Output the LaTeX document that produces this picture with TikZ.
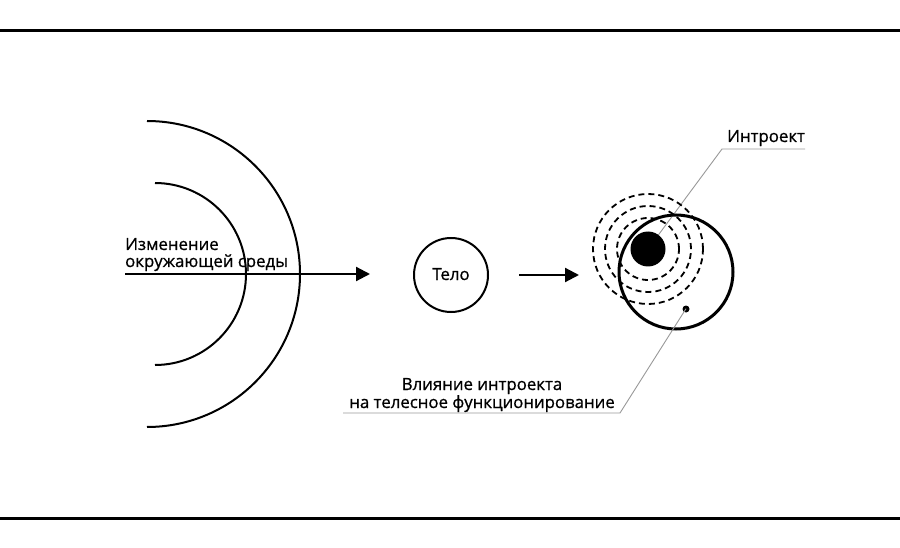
\documentclass[tikz,border=0pt]{standalone}
\usepackage{fontspec}
\setmainfont{Open Sans}
\newfontfamily\lblfont{Open Sans}[FakeBold=0.8]
\usetikzlibrary{arrows.meta}
\begin{document}
\begin{tikzpicture}[x=1pt,y=-1pt,
  lbl/.style={inner sep=0pt,font=\lblfont\fontsize{16.8}{18}\selectfont},
  arcline/.style={line width=2pt},
  arrowline/.style={line width=2.2pt,-{Triangle[length=14pt,width=14pt]}},
  dashring/.style={line width=1.8pt,dash pattern=on 6pt off 4pt},
  leader/.style={gray!80,line width=0.9pt}]
\useasboundingbox (0,0) rectangle (900,548);
\fill[white] (0,0) rectangle (900,548);
% frame lines
\draw[line width=3pt] (0,31) -- (900,31);
\draw[line width=3pt] (0,518) -- (900,518);
% left arcs
\draw[arcline] (147,121) arc[start angle=90,end angle=-90,radius=153pt];
\draw[arcline] (155,183) arc[start angle=90,end angle=-90,radius=91pt];
% text left
\node[lbl,anchor=base west] (izm1) at (125,250) {Изменение};
\node[lbl,anchor=base west] (izm2) at (125,267) {окружающей среды};
\coordinate (a1s) at (125,274);
\coordinate (a1e) at (370,274);
\draw[arrowline] (a1s) -- (a1e);
% body
\node[circle,draw,line width=2pt,minimum size=74pt,inner sep=0pt] (telo) at (451,275) {};
\node[lbl,anchor=base] (telot) at (451,280) {Тело};
\draw[arrowline] ([xshift=30pt]telo.east) -- ([xshift=90pt]telo.east);
% right
\node[circle,minimum size=112pt,inner sep=0pt] (big) at (676,272) {};
\coordinate (ic) at (648,249);
\draw[leader] (805,149) -- (722,149) -- (ic);
\draw[dashring] (ic) circle[radius=55pt];
\draw[dashring] (ic) circle[radius=43pt];
\draw[dashring] (ic) circle[radius=31pt];
\draw[line width=3pt] (big.center) circle[radius=57pt];
\node[circle,fill=black,minimum size=35pt,inner sep=0pt] (disc) at (ic) {};
\node[circle,fill=black,minimum size=7pt,inner sep=0pt] (dot) at (686,309) {};
\node[lbl,anchor=base west] (intr) at (727,142) {Интроект};
% bottom label
\node[lbl,anchor=base] (vl1) at (482,390) {Влияние интроекта};
\node[lbl,anchor=base] (vl2) at (482,408) {на телесное функционирование};
\coordinate (lb) at (620,413);
\draw[leader] ([yshift=4pt]dot.south) -- (lb) -- (343,413);
\end{tikzpicture}
\end{document}
